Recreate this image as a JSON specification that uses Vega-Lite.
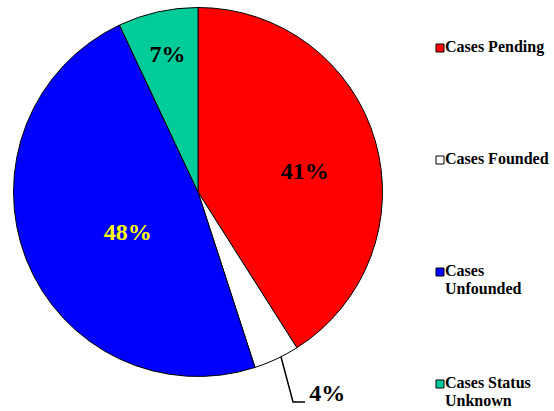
{
  "$schema": "https://vega.github.io/schema/vega-lite/v6.json",
  "width": 396,
  "height": 384,
  "autosize": {"type": "none"},
  "padding": {"left": 0, "top": 0, "right": 158, "bottom": 27},
  "background": "white",
  "view": {"stroke": null},
  "config": {"font": "Liberation Serif"},
  "datasets": {
    "slices": [
      {"idx": 1, "category": "Cases Pending", "value": 41, "label": "41%"},
      {"idx": 2, "category": "Cases Founded", "value": 4, "label": "4%"},
      {"idx": 3, "category": "Cases Unfounded", "value": 48, "label": "48%"},
      {"idx": 4, "category": "Cases Status Unknown", "value": 7, "label": "7%"}
    ],
    "leader": [
      {"step": 1, "px": 0.450, "py": -0.894},
      {"step": 2, "px": 0.515, "py": -1.138},
      {"step": 3, "px": 0.580, "py": -1.138}
    ]
  },
  "layer": [
    {
      "data": {"name": "slices"},
      "mark": {"type": "arc", "radius": 184.5, "stroke": "black", "strokeWidth": 1},
      "encoding": {
        "theta": {"field": "value", "type": "quantitative", "stack": true},
        "order": {"field": "idx", "type": "quantitative"},
        "color": {
          "field": "category",
          "type": "nominal",
          "scale": {
            "domain": ["Cases Pending", "Cases Founded", "Cases Unfounded", "Cases Status Unknown"],
            "range": ["#FF0000", "#FFFFFF", "#0000FF", "#00CC99"]
          },
          "legend": {
            "title": null,
            "orient": "none",
            "legendX": 432,
            "legendY": 40,
            "padding": 0,
            "symbolType": "square",
            "symbolSize": 64,
            "symbolStrokeColor": "black",
            "symbolStrokeWidth": 1,
            "symbolOpacity": 1,
            "labelFont": "Liberation Serif",
            "labelFontSize": 16,
            "labelFontWeight": "bold",
            "labelColor": "black",
            "labelOffset": -3,
            "labelLimit": 0,
            "labelBaseline": "top",
            "rowPadding": 78,
            "labelExpr": "datum.label == 'Cases Unfounded' ? ['Cases', 'Unfounded'] : datum.label == 'Cases Status Unknown' ? ['Cases Status', 'Unknown'] : [datum.label, '']",
            "encode": {"labels": {"update": {"dy": {"value": -9}}}}
          }
        }
      }
    },
    {
      "data": {"name": "slices"},
      "mark": {"type": "text", "radius": 109, "dx": 2, "dy": 10, "fontSize": 24, "fontWeight": "bold", "font": "Liberation Serif", "baseline": "middle", "align": "center", "color": "black"},
      "encoding": {
        "theta": {"field": "value", "type": "quantitative", "stack": true},
        "order": {"field": "idx", "type": "quantitative"},
        "text": {"condition": {"test": "datum.category === 'Cases Pending'", "field": "label"}, "value": ""}
      }
    },
    {
      "data": {"name": "slices"},
      "mark": {"type": "text", "radius": 82, "dx": 6, "dy": 11, "fontSize": 24, "fontWeight": "bold", "font": "Liberation Serif", "baseline": "middle", "align": "center", "color": "#FFFF00"},
      "encoding": {
        "theta": {"field": "value", "type": "quantitative", "stack": true},
        "order": {"field": "idx", "type": "quantitative"},
        "text": {"condition": {"test": "datum.category === 'Cases Unfounded'", "field": "label"}, "value": ""}
      }
    },
    {
      "data": {"name": "slices"},
      "mark": {"type": "text", "radius": 140, "dx": 0, "dy": 0, "fontSize": 24, "fontWeight": "bold", "font": "Liberation Serif", "baseline": "middle", "align": "center", "color": "black"},
      "encoding": {
        "theta": {"field": "value", "type": "quantitative", "stack": true},
        "order": {"field": "idx", "type": "quantitative"},
        "text": {"condition": {"test": "datum.category === 'Cases Status Unknown'", "field": "label"}, "value": ""}
      }
    },
    {
      "data": {"name": "slices"},
      "mark": {"type": "text", "radius": 240, "dx": 27, "dy": -15, "fontSize": 24, "fontWeight": "bold", "font": "Liberation Serif", "baseline": "middle", "align": "center", "color": "black"},
      "encoding": {
        "theta": {"field": "value", "type": "quantitative", "stack": true},
        "order": {"field": "idx", "type": "quantitative"},
        "text": {"condition": {"test": "datum.category === 'Cases Founded'", "field": "label"}, "value": ""}
      }
    },
    {
      "data": {"name": "leader"},
      "mark": {"type": "line", "color": "black", "strokeWidth": 1.5, "clip": false},
      "encoding": {
        "x": {"field": "px", "type": "quantitative", "scale": {"domain": [-1.0732, 1.0732], "nice": false, "zero": false}, "axis": null},
        "y": {"field": "py", "type": "quantitative", "scale": {"domain": [-1.0407, 1.0407], "nice": false, "zero": false}, "axis": null},
        "order": {"field": "step", "type": "quantitative"}
      }
    }
  ]
}
